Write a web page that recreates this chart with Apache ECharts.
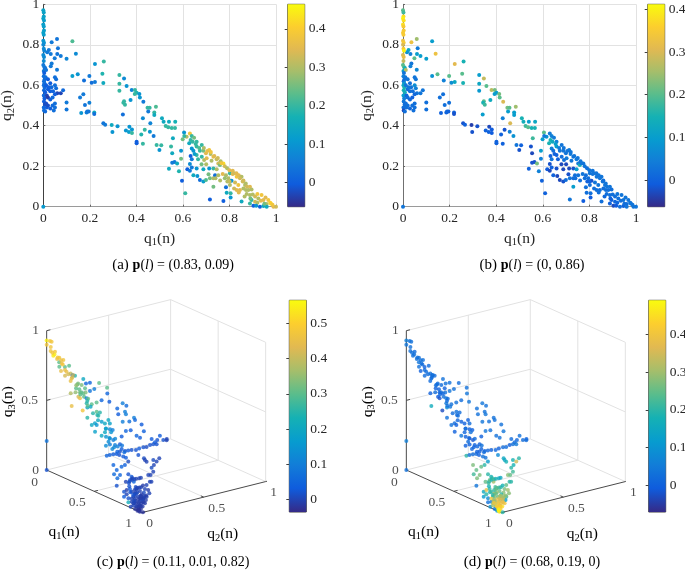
<!DOCTYPE html>
<html><head><meta charset="utf-8">
<style>html,body{margin:0;padding:0;background:#fff}#c{width:685px;height:570px}</style>
<script src="https://cdn.jsdelivr.net/npm/echarts@6/dist/echarts.min.js"></script>
</head><body><div id="c"></div>
<script>
// ---- panels (a), (b): share point positions ----
const q1AB=[
.036,.059,.125,.14,.063,.024,.017,.032,.06,.075,
.1,.049,.036,.032,.059,.125,.148,.175,.198,.222,
.26,.254,.258,.208,.222,.327,.327,.327,.347,.358,
.38,.394,.401,.393,.413,.415,.43,.347,.344,.351,
.375,.342,.448,.457,.451,.484,.477,.477,.428,.51,
.517,.46,.54,.567,.526,.537,.552,.566,.258,.266,
.294,.319,.297,.37,.381,.355,.368,.381,.436,.421,
.458,.474,.401,.401,.428,.487,.507,.499,.549,.557,
.554,.605,.564,.554,.54,.583,.596,.61,.716,.774,
.592,.592,.158,.172,.179,.198,.163,.186,.189,.195,
.219,.219,.575,
.63,.638,.648,.616,.599,.606,.633,.627,.642,.659,
.681,.638,.645,.633,.638,.659,.673,.688,.713,.699,
.719,.731,.659,.681,.691,.702,.723,.745,.752,.774,
.762,.713,.731,.745,.759,.63,.638,.619,.63,.659,
.662,.645,.688,.673,.688,.699,.716,.731,.738,.752,
.771,.785,.802,.814,.814,.831,.84,.852,.791,.809,
.802,.824,.838,.857,.867,.888,.731,.785,.788,.805,
.805,.852,.831,.845,.871,.881,.874,.888,.895,.92,
.938,.924,.91,.946,.967,.978,.96,.989,1,.903,
.931,.946,.96,.888,
0,.002,.002,0,.003,0,.002,.003,0,.002,
0,.003,0,.002,.004,0,.003,.002,0,.004,
.008,.002,.012,.004,.002,.006,.003,.01,.005,.002,
.006,.003,.008,.002,.005,.003,.007,.002,.003,.008,
.012,.02,.03,.015,.02,.03,.04,.06,.075,.085,
.05,.012,.015,.02,.03,.04,.05,.045,.05,.1,
.1,.05,.055,.05,.055,.02,.03,.024,.035,.042,
0,
.655,.67,.69,.705,.72,.735,.75,.765,.78,.79,
.8,.82,.83,.845,.86,.87,.875,.895,.9,.91,
.935,.955,.975,.985,.795,.8,.78,.76,.74,.71,
.7,.68,.665,.65,.82,.84,.86,.865,.89,.92,
.915,.95];
const q2AB=[
.812,.829,.817,.756,.783,.774,.763,.755,.755,.745,
.731,.733,.708,.694,.677,.646,.654,.623,.646,.705,
.717,.657,.611,.613,.616,.651,.608,.573,.634,.596,
.577,.577,.563,.557,.557,.539,.519,.521,.514,.504,
.527,.455,.489,.489,.47,.494,.466,.453,.437,.437,
.42,.412,.42,.42,.399,.392,.389,.389,.412,.405,
.404,.397,.369,.395,.382,.377,.369,.364,.38,.357,
.37,.349,.321,.313,.311,.305,.303,.28,.297,.338,
.264,.367,.221,.217,.188,.175,.128,.066,.036,.028,
.277,.237,.54,.555,.502,.514,.463,.465,.47,.47,
.466,.458,.214,
.362,.349,.341,.346,.333,.349,.329,.313,.321,.321,
.305,.288,.277,.25,.234,.297,.277,.277,.28,.264,
.26,.247,.255,.247,.231,.239,.227,.234,.214,.214,
.224,.189,.189,.185,.206,.211,.194,.185,.178,.189,
.152,.156,.185,.132,.124,.132,.14,.14,.156,.156,
.161,.156,.165,.178,.161,.148,.156,.148,.124,.128,
.107,.119,.107,.124,.107,.099,.099,.096,.069,.066,
.046,.026,.082,.082,.082,.082,.063,.058,.033,.063,
.058,.041,.025,.033,.033,.016,.013,0,0,.005,
0,.003,0,.016,
.97,.96,.94,.93,.92,.9,.89,.87,.86,.85,
.82,.81,.8,.78,.77,.75,.74,.72,.7,.69,
.685,.67,.675,.66,.645,.63,.62,.64,.61,.6,
.59,.575,.565,.55,.535,.52,.505,.49,.475,.47,
.6,.58,.57,.55,.54,.53,.54,.56,.56,.575,
.555,.51,.49,.5,.485,.5,.51,.475,.49,.515,
.48,.64,.63,.6,.585,.63,.61,.59,.59,.57,
0,
.31,.29,.29,.275,.27,.25,.24,.215,.2,.19,
.18,.165,.165,.14,.13,.115,.1,.085,.06,.05,
.03,.045,.02,.01,.14,.125,.14,.13,.14,.16,
.21,.21,.235,.26,.09,.07,.09,.05,.04,.02,
.005,.015];
const valA=[
.05,.04,.22,.08,.04,.05,.05,.05,.04,.05,
.07,.05,.05,.05,.05,.12,.1,.03,.05,.1,
.2,.18,.15,.03,.05,.2,.2,.2,.08,.1,
.07,.2,.18,.2,.1,.1,.05,.2,.2,.2,
.1,.03,.2,.2,.05,.22,.2,.15,.08,.15,
.15,.07,.15,.17,.2,.2,.2,.2,.04,.05,
.15,.1,.1,.1,.1,.1,.12,.2,.2,.18,
.1,.05,0,0,.2,.2,.2,.1,.2,.15,
.15,.1,.05,.05,.15,.18,0,.2,0,0,
.1,.25,.05,.05,.04,.06,.1,.06,.04,.04,
.15,.03,.15,
.38,.2,.25,.3,.25,.2,.2,.15,.2,.2,
.2,.1,.1,0,.05,.2,.2,.25,.38,.35,
.3,.36,.2,.2,.3,.35,.3,.32,.33,.42,
.3,.1,.2,.3,.25,.08,.05,0,.05,.1,
.1,.15,.15,.03,.12,.22,.25,.3,.03,.3,
.35,.3,.2,.35,.35,.38,.35,.3,.3,.1,
.3,.33,.38,.33,.3,.35,.25,.03,.15,.2,
.1,.15,.35,.35,.3,.3,.3,.3,.2,.38,
.38,.3,.33,.35,.38,.45,.3,.35,.33,0,
0,.15,.15,.2,
.13,.13,.13,.13,.12,.12,.12,.12,.13,.12,
.1,.1,.08,.08,.07,.08,.08,.08,.05,.05,
.04,.04,.04,0,.03,.02,.03,.03,.03,.03,
.02,.02,0,.02,0,0,-.02,.02,.03,.02,
0,0,0,-.03,-.04,0,.02,-.03,-.03,.02,
0,-.02,0,-.02,0,.02,.03,.03,.03,.05,
.04,.03,.03,.03,.03,0,0,0,.02,.01,
.11,
.2,.22,.3,.36,.38,.35,.33,.38,.33,.3,
.35,.33,.35,.33,.33,.3,.33,.3,.3,.33,
.35,.35,.4,.38,.3,.32,.28,.3,.3,.25,
.3,.25,.2,.12,.33,.35,.3,.3,.25,.3,
.1,.25];
const valB=[
.33,.25,.1,.33,.04,.12,.08,.05,.1,.1,
.1,.2,.03,.05,.06,.08,.2,.05,.2,.31,
.15,.2,.15,.07,.12,.1,.12,.09,.28,.2,
.27,.22,.1,.1,.22,.2,.3,.2,.15,.18,
.13,.1,.22,.2,.1,.25,.1,.1,.05,.15,
.14,.3,.1,.12,.18,.2,.15,.15,-.02,0,
-.04,-.02,-.02,-.03,-.01,0,0,-.01,-.02,0,
.05,.08,0,0,0,.03,0,-.02,-.02,.18,
-.03,.2,-.02,-.02,0,.05,0,0,.03,-.01,
.1,.05,.02,.02,.02,.02,0,0,.01,0,
0,-.02,.22,
.04,.05,.04,.08,.1,.04,.15,.15,.13,.05,
.03,.05,.02,0,.03,.1,.03,.03,.04,.03,
.04,.03,0,.02,.02,.04,.03,.04,.04,.03,
.03,-.03,-.02,.1,.15,-.02,0,-.01,-.03,-.02,
-.03,0,-.03,-.03,-.02,.02,.03,.02,.02,.03,
.03,.02,.03,.03,.03,.03,.03,.03,0,-.02,
.02,.03,.03,.03,.03,.03,.1,.02,.02,.02,
-.01,.02,.02,.02,.02,.02,.02,.02,0,.03,
.03,.02,.01,.03,.03,.03,.02,.03,.03,-.03,
.02,0,.03,0,
.2,.18,.38,.4,.38,.38,.35,.35,.35,.35,
.33,.35,.3,.35,.4,.3,.32,.28,.2,.2,
.15,.1,.27,.03,.05,.03,.02,.03,.08,.12,
.15,.15,.14,.1,.05,.03,.02,.02,-.03,.02,
.03,.02,.02,.01,.02,.01,0,.03,.03,.03,
.01,.02,.02,.02,.01,.02,.02,.02,.02,.02,
.02,.03,.03,.07,.05,.03,.02,.03,.03,.02,
.03,
.1,.04,.03,.03,.03,.03,.03,.03,.03,.02,
.03,.03,.03,.03,.02,.03,.03,.02,.02,.02,
.02,.03,.03,.03,.02,0,.02,.02,.02,-.02,
-.03,-.03,0,0,.02,.02,.02,.01,0,.01,
-.01,.02];

// ---- panels (c), (d): share point positions ----
const q1CD=[
0,0,0,0,.042,.047,.07,.082,.11,.073,
.062,.132,.113,.119,.073,.133,.151,.155,.171,.193,
.14,.126,.185,.222,.14,.088,.199,.167,.111,.068,
0,0,.174,.231,.253,.304,.253,.26,.241,.322,
.324,.272,.265,.098,.157,.15,.029,.1,.219,.286,
.319,.359,.319,.263,.379,.319,.297,.348,.428,.474,
.458,.461,.509,.531,.382,.37,.305,.326,.415,.387,
.374,.504,.487,.474,.513,.551,.6,.101,0,0,
.069,.156,.088,.053,.196,.137,.069,.056,.107,.215,
.266,.221,.214,.365,.462,
.632,.664,.628,.594,.54,.497,.489,.455,.419,.38,
.333,.287,.254,.203,.167,.13,.085,.015,.031,0,
.006,.137,.125,.564,.582,
.563,.551,.573,.638,.685,.414,.399,.411,.408,.334,
.322,.263,.381,.431,.538,.518,.459,.702,.737,.709,
.772,.744,.737,.708,.704,.736,.807,.594,.66,.718,.58,
.814,.842,.864,.784,.783,.762,.698,.736,.814,.86,
.903,.859,.831,.785,.86,.895,.934,.903,.873,.871,
.884,.912,.93,.94,.926,.93,.96,.96,.955,.98,
1,.912,.842,.804,.821,.852,.826,.895,.94,.846,
0,0,
.96,.94,.92,.9,.88,.86,.85,.83,.82,.8,
.78,.76,.92,.9,.88,.86,.84,.82,.8,.78,
.76,.74,.72,.7,.88,.85,.83,.8,.78,.76,
.74,.72,.7,.68,.66,.64,.93,.95,.91,.87,
.84,.81,.97,.9,.87,
.03,.06,.09,.1,.13,.17,.19,.16,.2,.22,
.26,.24,.29,.28,.31,.34,.37,.35,.41,.44,
.43,.47,.49,.52,.46,.5,.54,.56,.48,.53];
const q2CD=[
0,.027,.04,0,0,.031,0,0,0,.046,
.087,0,.035,.056,.125,0,0,.029,.044,0,
.086,.132,.06,.023,.102,.228,.095,.154,.232,.297,
.423,.487,.176,.086,.043,0,0,.069,.111,.009,
.02,.093,.119,.309,.229,.328,.467,.429,.235,.144,
.078,.053,.11,0,0,.159,.202,.15,0,0,
.038,.05,0,.036,.151,.186,.264,.26,.16,.214,
.246,.092,.137,.174,.158,.088,.018,.492,.613,.643,
.579,.458,.572,.664,.463,.562,.66,.723,.702,.513,
.435,.556,.589,.325,.237,
0,0,.056,.109,.177,.224,.257,.309,.364,.429,
.491,.56,.611,.678,.732,.774,.827,.902,.917,.969,
.963,.782,.751,.137,.14,
.186,.217,.219,.142,.079,.422,.479,.491,.48,.604,
.64,.707,.573,.516,.407,.441,.508,0,0,0,
0,0,0,.116,.145,.139,.02,.377,.3,.242,.401,
0,0,.023,.125,.152,.2,.284,.264,0,0,
.007,.081,.142,.205,0,0,0,.055,.105,.125,
0,0,.01,.032,.064,0,.005,.024,0,0,
.01,0,0,.15,.101,.059,.167,0,0,.117,
0,0,
.01,.02,.04,.07,.09,.1,.13,.12,.15,.17,
.19,.22,0,.02,.04,.05,.08,.08,.11,.12,
.15,.18,.21,.24,0,.02,.03,.05,.07,.09,
.12,.14,.17,.2,.24,.27,.03,0,.01,.07,
.11,.14,0,.05,.03,
.01,0,.02,.04,.03,.03,.06,.09,.1,.07,
.08,.13,.05,.12,.09,.07,.09,.14,.1,.14,
.19,.11,.13,.1,.2,.19,.13,.1,.24,.22];
const q3CD=[
.93,.92,.912,.9,.867,.857,.842,.855,.831,.818,
.789,.814,.792,.764,.743,.782,.757,.758,.729,.736,
.717,.686,.7,.701,.701,.629,.654,.627,.604,.581,
.531,.482,.6,.632,.654,.651,.628,.621,.599,.622,
.609,.588,.569,.542,.564,.474,.454,.425,.5,.527,
.559,.546,.528,.54,.544,.48,.459,.462,.507,.468,
.467,.453,.431,.401,.43,.406,.393,.376,.39,.364,
.346,.373,.345,.322,.301,.333,.354,.363,.342,.317,
.31,.345,.299,.243,.304,.264,.232,.183,.155,.237,
.264,.19,.166,.279,.273,
.296,.311,.292,.273,.258,.253,.229,.21,.19,.164,
.147,.126,.106,.09,.072,.066,.057,.05,.02,.007,
0,.052,.093,.274,.255,
.227,.209,.187,.2,.216,.14,.099,.076,.089,.039,
.016,.007,.025,.033,.038,.024,.015,.251,.226,.186,
.2,.168,.113,.161,.135,.11,.159,.014,.028,.029,.004,
.093,.083,.104,.081,.055,.028,.007,0,.057,.06,
.083,.053,.02,.003,.031,.047,.064,.037,.017,0,
.007,.024,.019,.025,.007,.005,.006,.009,0,0,
0,.04,.114,.038,.068,.08,0,.07,.049,.03,
.208,0,
0,.02,.02,0,.01,.03,0,.04,.01,.01,
.01,0,.06,.06,.07,.08,.07,.09,.08,.09,
.07,.06,.05,.05,.11,.12,.13,.14,.14,.14,
.13,.13,.11,.1,.09,.08,0,.03,.04,.04,
.03,.03,.01,.03,.08,
.89,.86,.83,.81,.79,.75,.71,.71,.66,.66,
.62,.6,.62,.57,.57,.55,.5,.47,.46,.4,
.36,.39,.35,.34,.32,.28,.3,.3,.27,.24];
const valC=[
.55,.47,.47,.47,.47,.47,.54,.54,.45,.47,
.47,.3,.45,.3,.3,.3,.45,.45,.42,.42,
.4,.25,.45,.45,.03,.2,.3,.33,.05,.05,
.3,.3,.3,.3,.3,.35,.38,.33,.3,.42,
.45,.3,.1,.1,.08,.05,.05,.03,.3,.3,
.25,.2,.2,.45,.47,.3,.25,.25,.25,.2,
.18,.15,.18,.2,.17,.2,.2,.18,.15,.12,
.1,.15,.1,.1,.1,.1,.13,.05,.1,.06,
.1,.03,.1,.1,.1,.07,.05,.03,.04,.03,
.05,.05,.03,.03,.03,
.05,.04,.03,.03,.02,.03,.02,.03,.02,.02,
.03,.02,.01,.02,.02,.03,.02,.03,.02,0,
0,.02,.03,.04,.02,
.03,.03,.01,.04,.05,.02,.01,0,0,.01,
0,0,0,.01,0,0,0,.05,.05,.06,
.05,.06,.02,.02,.03,.05,0,0,0,0,0,
.02,0,0,0,0,.01,-.01,0,.03,.02,
0,0,0,0,.22,0,0,0,0,-.01,
0,0,0,0,-.01,-.02,-.02,-.02,-.02,-.02,
-.02,0,-.01,-.01,0,-.01,-.01,0,-.01,-.02,
.08,.02,
-.02,-.02,-.01,-.01,-.01,0,-.01,0,0,-.01,
0,-.01,.01,0,0,0,.01,0,0,.01,
0,0,0,-.01,.02,.03,.02,.02,.01,.02,
.01,0,.01,0,0,0,-.02,-.01,0,-.01,
-.01,-.01,-.02,-.01,.02,
.47,.47,.47,.45,.47,.45,.42,.4,.33,.35,
.3,.33,.3,.3,.25,.3,.25,.25,.2,.18,
.15,.2,.15,.13,.12,.1,.12,.12,.08,.06];
const valD=[
.06,.03,.03,.04,.03,.02,.03,.03,.03,.03,
.03,.04,.03,0,.02,.03,0,.02,.02,.02,
.03,.02,.02,.02,0,.03,.02,.02,.03,.03,
.02,.03,0,0,0,.02,0,0,0,-.01,
-.02,.03,.04,.03,.04,.02,.04,.04,.03,.03,
.05,.08,.04,.16,-.03,.03,.02,.02,.03,.03,
.02,0,0,.04,0,0,0,.02,0,0,
0,0,-.02,-.02,0,0,0,.03,.04,.03,
.03,.03,.04,.03,.04,.03,.03,.03,.04,.03,
.04,.03,.03,0,0,
.2,.03,.02,.02,0,0,0,.01,0,.01,
0,.02,.02,0,.03,.02,.01,.03,.02,0,
.02,.05,.02,0,0,
.03,.03,.12,.2,.25,.08,.15,.18,.15,.18,
.35,.2,.18,.2,.28,.25,.22,.27,.25,.22,
.27,.27,.04,.2,.18,.3,.25,.2,.25,.27,.2,
.15,.2,.22,.2,.25,.28,.3,.28,.12,.08,
.2,.25,.3,.22,.03,.05,.25,.32,.38,.4,
.1,.3,.28,.4,.45,.05,.35,.42,.12,.46,
.2,.3,.38,.2,.3,.28,.12,.4,.3,.38,
.06,.03,
.46,.42,.4,.42,.38,.35,.38,.3,.35,.32,
.3,.28,.33,.3,.28,.3,.25,.2,.25,.22,
.25,.22,.2,.18,.2,.2,.18,.22,.2,.25,
.18,.2,.22,.18,.15,.15,.45,.42,.4,.38,
.35,.3,.48,.4,.2,
.03,.03,.03,.03,.02,.02,.02,.03,.02,.02,
.02,.03,.01,.02,.02,.03,.02,.02,.01,.02,
.03,.01,.01,.02,.02,.01,0,.01,.03,.02];

// ---- colour bars ----
const ticksA=[0,.1,.2,.3,.4], ticksB=[0,.1,.2,.3,.4], ticksC=[0,.1,.2,.3,.4,.5], ticksD=[0,.1,.2,.3,.4];
const rangeA=[-.0625,.464], rangeB=[-.0625,.4117], rangeC=[-.035,.565], rangeD=[-.0706,.49];
const parula=['#352a87','#0f5cdd','#127dd8','#079ccf','#15b1b4','#59bd8c','#a5be6b','#e1b952','#fcce2e','#f9fb0e'];

// ---- text ----
const ticks3D=[0,.5,1];
const captions=[['(a) ','p','(','l',') = (0.83, 0.09)'],['(b) ','p','(','l',') = (0, 0.86)'],
                ['(c) ','p','(','l',') = (0.11, 0.01, 0.82)'],['(d) ','p','(','l',') = (0.68, 0.19, 0)']];

const SERIF='"Liberation Serif","Times New Roman",serif';
const TXT='#262626';
const FS=13.5;
const rich={t:{fontFamily:SERIF,fontSize:15.5,color:TXT},s:{fontFamily:SERIF,fontSize:10.5,color:TXT,padding:[7,0,0,0]}};
const qName=n=>`{t|q}{s|${n}}{t|(n)}`;

const grid=[],xAxis=[],yAxis=[],series=[],visualMap=[],graphic=[];

function addBar(left,top,width,height,range,ticks,sIndex){
  const g=grid.length;
  grid.push({left,top,width,height,outerBoundsMode:'none',show:true,borderColor:'#404040',borderWidth:1,backgroundColor:'transparent'});
  xAxis.push({gridIndex:g,type:'value',min:0,max:1,show:false});
  yAxis.push({gridIndex:g,type:'value',position:'right',min:range[0],max:range[1],
    axisLine:{show:false},splitLine:{show:false},
    axisTick:{show:true,inside:true,length:3,lineStyle:{color:'#404040'},customValues:ticks},
    axisLabel:{show:true,customValues:ticks,margin:4,fontFamily:SERIF,fontSize:FS,color:TXT,formatter:v=>String(+v.toFixed(2))}});
  series.push({type:'custom',xAxisIndex:g,yAxisIndex:g,silent:true,z:1,data:[[0,range[0],1,range[1]]],
    encode:{x:[0,2],y:[1,3]},
    renderItem(p,api){
      const a=api.coord([0,range[1]]),b=api.coord([1,range[0]]);
      return {type:'rect',shape:{x:a[0],y:a[1],width:b[0]-a[0],height:b[1]-a[1]},
        style:{fill:new echarts.graphic.LinearGradient(0,1,0,0,parula.map((c,i)=>({offset:i/(parula.length-1),color:c})))}};
    }});
  visualMap.push({show:false,seriesIndex:sIndex,dimension:2,min:range[0],max:range[1],inRange:{color:parula}});
}

function addScatter2D(left,top,width,height,vals,axisDark,range,ticks,barLeft){
  const g=grid.length;
  grid.push({left,top,width,height,outerBoundsMode:'none'});
  const al=(c)=>({show:true,lineStyle:{color:c,width:1}});
  xAxis.push({gridIndex:g,type:'value',min:0,max:1,interval:.2,name:qName(1),nameLocation:'middle',nameGap:23,
    nameTextStyle:{rich},axisLine:al('#9a9a9a'),axisTick:{show:true,inside:true,length:2,lineStyle:{color:'#666'}},
    splitLine:{show:true,lineStyle:{color:'#e2e2e2',width:1}},
    axisLabel:{margin:5,fontFamily:SERIF,fontSize:FS,color:TXT,formatter:v=>String(+v.toFixed(1))}});
  yAxis.push({gridIndex:g,type:'value',min:0,max:1,interval:.2,name:qName(2),nameLocation:'middle',nameGap:27,nameRotate:90,
    nameTextStyle:{rich},axisLine:al(axisDark),axisTick:{show:true,inside:true,length:2,lineStyle:{color:'#666'}},
    splitLine:{show:true,lineStyle:{color:'#e2e2e2',width:1}},
    axisLabel:{margin:4,fontFamily:SERIF,fontSize:FS,color:TXT,formatter:v=>String(+v.toFixed(1))}});
  const sIndex=series.length;
  series.push({type:'scatter',xAxisIndex:g,yAxisIndex:g,symbolSize:4,clip:false,z:3,
    itemStyle:{opacity:1},data:q1AB.map((x,i)=>[x,q2AB[i],vals[i]])});
  addBar(barLeft,top,17,height,range,ticks,sIndex);
}

// 3D view of the unit cube, projected into a hidden plane
const project=(a,b,c)=>[.434*a+.566*b,.199-.199*a+.145*b+.65*c];
const wallLines=[
 [[0,0,1],[0,1,1],[1,1,1],[1,1,0],[0,1,0],[0,0,0]],[[0,1,0],[0,1,1]],
 [[0,0,.5],[0,1,.5],[1,1,.5]],[[0,.5,0],[0,.5,1]],[[.5,1,0],[.5,1,1]],
 [[.5,0,0],[.5,1,0]],[[0,.5,0],[1,.5,0]]];
const axisLines=[
 [[0,0,0],[0,0,1]],[[0,0,0],[1,0,0],[1,1,0]],
 [[0,0,.5],[0,.03,.5]],[[0,0,1],[0,.03,1]],[[.5,0,0],[.5,.03,0]],[[1,0,.0],[1,.03,0]],
 [[1,.5,0],[.97,.5,0]],[[1,1,0],[1,1.02,0]]];
const pathData=l=>{const o=[];l.forEach(seg=>{seg.forEach(p=>o.push(project(...p)));o.push(['-','-']);});return o;};

function addScatter3D(left,top,width,height,vals,range,ticks,barLeft){
  const g=grid.length;
  grid.push({left,top,width,height,outerBoundsMode:'none'});
  xAxis.push({gridIndex:g,type:'value',min:0,max:1,show:false});
  yAxis.push({gridIndex:g,type:'value',min:0,max:1,show:false});
  const base={type:'line',xAxisIndex:g,yAxisIndex:g,showSymbol:false,silent:true,clip:false,connectNulls:false};
  series.push({...base,z:1,lineStyle:{color:'#e2e2e2',width:1},data:pathData(wallLines)});
  series.push({...base,z:2,lineStyle:{color:'#4a4a4a',width:1},data:pathData(axisLines)});
  const lab=(p,text,off)=>({value:project(...p),label:{show:true,position:'inside',formatter:text,offset:off,
      fontFamily:SERIF,fontSize:FS,color:TXT}});
  const labels=[];
  ticks3D.forEach(t=>labels.push(lab([0,0,t],String(t),[t==.5?-17:-11,0])));
  ticks3D.forEach(t=>labels.push(lab([t,0,0],String(t),[t==0?-12:t==.5?-17:-13,t==0?12:11])));
  ticks3D.forEach(t=>labels.push(lab([1,t,0],String(t),[t==.5?13:8,11])));
  series.push({type:'scatter',xAxisIndex:g,yAxisIndex:g,symbolSize:0,silent:true,clip:false,z:4,data:labels});
  const sIndex=series.length;
  series.push({type:'scatter',xAxisIndex:g,yAxisIndex:g,symbolSize:4,clip:false,z:3,
    data:q1CD.map((a,i)=>{const p=project(a,q2CD[i],q3CD[i]);return [p[0],p[1],vals[i]];})});
  addBar(barLeft,300.3,17,211.7,range,ticks,sIndex);
  // axis titles
  const L=left-46.67;
  [[192,742,1,0],[668,748,2,0],[25,350,3,Math.PI/2]].forEach(([x,y,n,rot])=>graphic.push({type:'text',
    x:x/3+L,y:285+y/3,rotation:rot,style:{text:qName(n),rich,align:'center',verticalAlign:'middle'}}));
}

addScatter2D(43.3,4.3,232.7,202.4,valA,'#404040',rangeA,ticksA,287.7);
addScatter2D(403,4.3,233,202.4,valB,'#707070',rangeB,ticksB,647.7);
addScatter3D(46.67,298.33,219,214.33,valC,rangeC,ticksC,289.3);
addScatter3D(406.33,298.33,219,214.33,valD,rangeD,ticksD,648.7);

const capRich={a:{fontFamily:SERIF,fontSize:15,color:TXT},b:{fontFamily:SERIF,fontSize:14,fontWeight:'bold',color:TXT},
  c:{fontFamily:SERIF,fontSize:14,color:TXT},i:{fontFamily:SERIF,fontSize:14,fontStyle:'italic',color:TXT}};
[[173,265],[532,265],[173,562],[532,562]].forEach(([x,y],k)=>{
  const c=captions[k];
  graphic.push({type:'text',x,y,style:{text:`{a|${c[0]}}{b|${c[1]}}{c|${c[2]}}{i|${c[3]}}{c|${c[4]}}`,rich:capRich,align:'center',verticalAlign:'middle'}});
});

const chart=echarts.init(document.getElementById('c'),null,{renderer:'canvas'});
chart.setOption({animation:false,backgroundColor:'#fff',grid,xAxis,yAxis,series,visualMap,graphic});
</script></body></html>
